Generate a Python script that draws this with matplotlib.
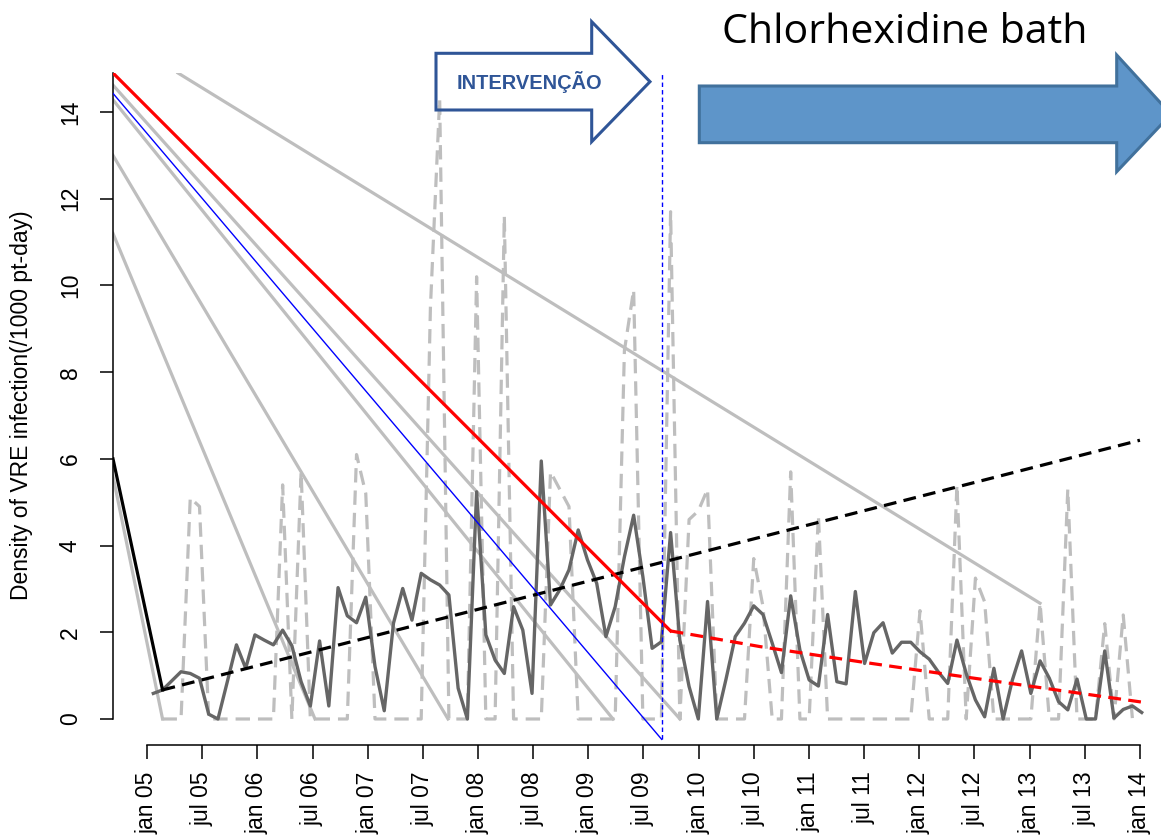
import numpy as np
import matplotlib.pyplot as plt
from matplotlib.patches import Polygon

plt.rcParams['font.family'] = ['Liberation Sans', 'DejaVu Sans']

# x axis unit: months since jan 2005; monthly observations
obs_x = np.linspace(0.685, 108.19, 108)

# VRE infection density, monthly (dark grey solid line)
vre_density = [
    0.59, 0.67, 0.88, 1.09, 1.05, 0.94, 0.11, 0.00, 0.85, 1.71,
    1.17, 1.94, 1.82, 1.71, 2.05, 1.69, 0.86, 0.30, 1.80, 0.30,
    3.03, 2.38, 2.22, 2.81, 1.21, 0.19, 2.21, 3.01, 2.28, 3.36,
    3.21, 3.09, 2.86, 0.71, 0.00, 5.24, 1.94, 1.36, 1.05, 2.59,
    2.05, 0.59, 5.95, 2.63, 2.98, 3.44, 4.36, 3.67, 3.13, 1.90,
    2.59, 3.74, 4.70, 3.28, 1.63, 1.78, 4.30, 1.82, 0.75, 0.00,
    2.71, 0.00, 0.92, 1.90, 2.21, 2.61, 2.41, 1.75, 1.07, 2.84,
    1.59, 0.90, 0.76, 2.41, 0.86, 0.81, 2.94, 1.28, 1.99, 2.22,
    1.52, 1.77, 1.77, 1.55, 1.38, 1.08, 0.82, 1.82, 1.05, 0.44,
    0.05, 1.17, 0.00, 0.90, 1.57, 0.59, 1.34, 0.94, 0.40, 0.21,
    0.92, 0.00, 0.00, 1.57, 0.02, 0.22, 0.30, 0.15,
]

# other series (light grey dashed), mostly zero with spikes
other_density = [
    np.nan, 0, 0, 0, 5.1, 4.9, 0, 0, 0, 0,
    0, 0, 0, 0, 5.4, 0, 5.7, 0, 0, 0,
    0, 0, 6.1, 5.2, 0, 0, 0, 0, 0, 0,
    9.5, 14.3, 0, 0, 0, 10.2, 0, 0, 11.6, 0,
    0, 0, 0, 5.7, 5.3, 4.9, 0, 0, 0, 0,
    0, 8.5, 9.9, 0, 0, 0, 11.7, 0, 4.6, 4.8,
    5.3, 0, 0, 0, 0, 3.7, 2.6, 0, 0, 5.7,
    0, 0, 4.7, 0, 0, 0, 0, 0, 0, 0,
    0, 0, 0, 2.5, 0, 0, 0, 5.4, 0, 3.25,
    2.7, 0, 0, 0, 0, 0, 2.67, 0, 0, 5.3,
    0, 0, 0, 2.2, 0, 2.4, 0, np.nan,
]

# straight grey segments entering from the left edge: (x0, x1), (y0, y1)
grey_segments = [
    ((-3.70, 1.69), (5.6, 0.0)),
    ((-3.70, 18.27), (11.2, 0.0)),
    ((-3.70, 32.74), (13.0, 0.0)),
    ((-3.70, 50.68), (14.28, 0.0)),
    ((-3.70, 57.97), (14.62, 0.0)),
    ((3.37, 97.13), (14.9, 2.67)),
]

black_seg_x, black_seg_y = [-3.70, 1.69], [6.0, 0.67]
trend_pre_x, trend_pre_y = [1.69, 108.0], [0.67, 6.43]
red_seg_x, red_seg_y = [-3.70, 56.95], [14.9, 2.03]
trend_post_x = [56.95, 59.42, 66.67, 77.55, 87.67, 108.19]
trend_post_y = [2.03, 1.94, 1.67, 1.32, 1.01, 0.39]
blue_seg_x, blue_seg_y = [-3.70, 55.98], [14.43, -0.47]
intervention_x = 55.98

tick_pos = list(range(0, 109, 6))
tick_labels = ['jan 05', 'jul 05', 'jan 06', 'jul 06', 'jan 07', 'jul 07',
               'jan 08', 'jul 08', 'jan 09', 'jul 09', 'jan 10', 'jul 10',
               'jan 11', 'jul 11', 'jan 12', 'jul 12', 'jan 13', 'jul 13', 'jan 14']

W, H = 1161, 836
fig = plt.figure(figsize=(W / 100, H / 100), dpi=100)
ax = fig.add_axes([113 / W, (H - 745) / H, (W - 113) / W, (745 - 73) / H])
ax.set_xlim(-3.70, 110.29)
ax.set_ylim(-0.60, 14.90)

grey = '#bebebe'
for xs, ys in grey_segments:
    ax.plot(xs, ys, color=grey, lw=2.3, zorder=1)
ax.plot(obs_x, other_density, color=grey, lw=2.3, dashes=(4.5, 2.5), zorder=1)
ax.plot(obs_x, vre_density, color='#666666', lw=2.4, zorder=2)
ax.plot(black_seg_x, black_seg_y, color='black', lw=2.3, zorder=3)
ax.plot(trend_pre_x, trend_pre_y, color='black', lw=2.3, dashes=(4, 2.3), zorder=3)
ax.plot(red_seg_x, red_seg_y, color='red', lw=2.3, zorder=4)
ax.plot(trend_post_x, trend_post_y, color='red', lw=2.3, dashes=(4, 2.3), zorder=4)
ax.plot(blue_seg_x, blue_seg_y, color='blue', lw=1.0, zorder=5)
ax.plot([intervention_x, intervention_x], [-0.47, 14.9], color='blue', lw=1.0,
        dashes=(3.2, 2.2), zorder=5)

for s in ('top', 'right'):
    ax.spines[s].set_visible(False)
ax.spines['left'].set_bounds(0, 14.9)
ax.spines['bottom'].set_bounds(0, 108)
for s in ('left', 'bottom'):
    ax.spines[s].set_linewidth(1.1)

ax.set_yticks(range(0, 15, 2))
ax.tick_params(axis='y', length=9.4, width=1.1, pad=13, labelsize=16.5, labelrotation=90)
for lbl in ax.get_yticklabels():
    lbl.set_va('center')
ax.set_xticks(tick_pos)
ax.set_xticklabels(tick_labels)
ax.tick_params(axis='x', length=10, width=1.1, pad=9, labelsize=16.5, labelrotation=90)

ax.set_ylabel('Density of VRE infection(/1000 pt-day)', fontsize=16.5)
ax.yaxis.set_label_coords(-0.0763, 0.505)


def px(points):
    return [(x / W, 1 - y / H) for x, y in points]


# "INTERVENÇÃO" outlined arrow
arrow1 = Polygon(px([(436, 53.3), (591.7, 53.3), (591.7, 21.7), (650, 81.7),
                     (591.7, 141.7), (591.7, 110), (436, 110)]),
                 closed=True, transform=fig.transFigure, facecolor='none',
                 edgecolor='#2f5597', lw=2.2, zorder=10)
fig.patches.append(arrow1)
fig.text(529 / W, 1 - 82 / H, 'INTERVENÇÃO', color='#2f5597', fontsize=14.4,
         fontweight='bold', ha='center', va='center')

# Chlorhexidine bath arrow
arrow2 = Polygon(px([(699.3, 86), (1116.7, 86), (1116.7, 55), (1171, 114.3),
                     (1116.7, 171.7), (1116.7, 142.7), (699.3, 142.7)]),
                 closed=True, transform=fig.transFigure, facecolor='#5e95c9',
                 edgecolor='#41719c', lw=2.2, zorder=10)
fig.patches.append(arrow2)
fig.text(721.7 / W, 1 - 43.3 / H, 'Chlorhexidine bath', color='black',
         fontsize=29.6, family='Open Sans', ha='left', va='baseline')

fig.savefig('out.png', dpi=100)
